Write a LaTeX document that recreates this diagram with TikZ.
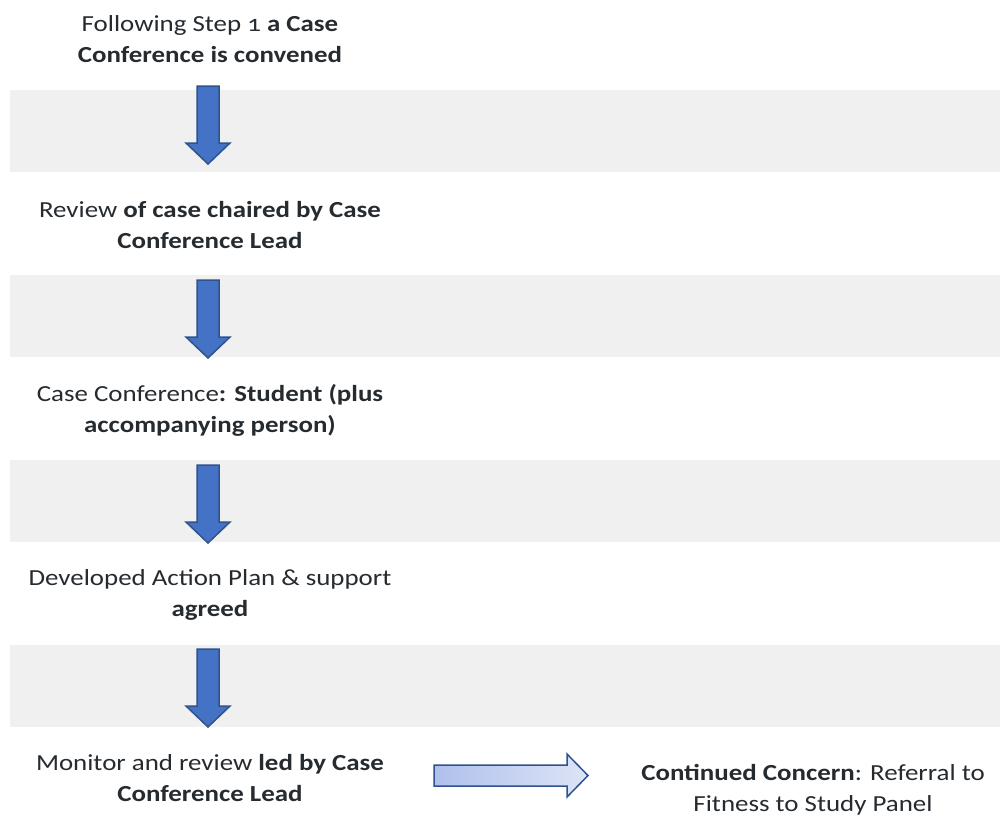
\documentclass[tikz,border=0pt]{standalone}
\usepackage{fontspec}
\setmainfont{Carlito}[Numbers=OldStyle,FakeStretch=1.17]
\definecolor{band}{HTML}{F0F0F0}
\definecolor{arrfill}{HTML}{4472C4}
\definecolor{arrline}{HTML}{2F528F}
\definecolor{txt}{HTML}{262B30}
\definecolor{gradL}{HTML}{AFC0EC}
\definecolor{gradR}{HTML}{DDE4F6}
\begin{document}
\begin{tikzpicture}[x=1pt,y=-1pt,
  bandbox/.style={fill=band,draw=none},
  downarrow/.style={fill=arrfill,draw=arrline,line width=1.5pt,line join=miter},
  label/.style={text=txt,align=center,font=\fontsize{23}{31}\selectfont,inner sep=0pt}]
\useasboundingbox (0,0) rectangle (1000,820);
\fill[white] (0,0) rectangle (1000,820);
% bands
\foreach \t in {90,275,460,645}{
  \path[bandbox] (10,\t) rectangle (1000,\t+82);
}
% down arrows
\foreach \t in {86,280,465,649}{
  \path[downarrow] (197,\t) -- (219,\t) -- (219,\t+57) -- (230,\t+57) -- (208,\t+78) -- (186,\t+57) -- (197,\t+57) -- cycle;
}
% texts
\node[label] (t1) at (210,39) {Following Step 1 \textbf{a Case}\\\textbf{Conference is convened}};
\node[label] (t2) at (210,225) {Review \textbf{of case chaired by Case}\\\textbf{Conference Lead}};
\node[label] (t3) at (210,410) {Case Conference\textbf{: Student (plus}\\\textbf{accompanying person)}};
\node[label] (t4) at (210,595) {Developed Action Plan \& support\\\textbf{agreed}};
\node[label] (t5) at (210,778) {Monitor and review \textbf{led by Case}\\\textbf{Conference Lead}};
\node[label] (t6) at (813,790) {\textbf{Continued Concern}: Referral to\\Fitness to Study Panel};
% horizontal arrow
\coordinate (ha) at (434,775.5);
\path[left color=gradL,right color=gradR,draw=arrline,line width=1.5pt,line join=miter]
  (434,765) -- (567,765) -- (567,754) -- (588,775.5) -- (567,797) -- (567,786) -- (434,786) -- cycle;
\end{tikzpicture}
\end{document}
